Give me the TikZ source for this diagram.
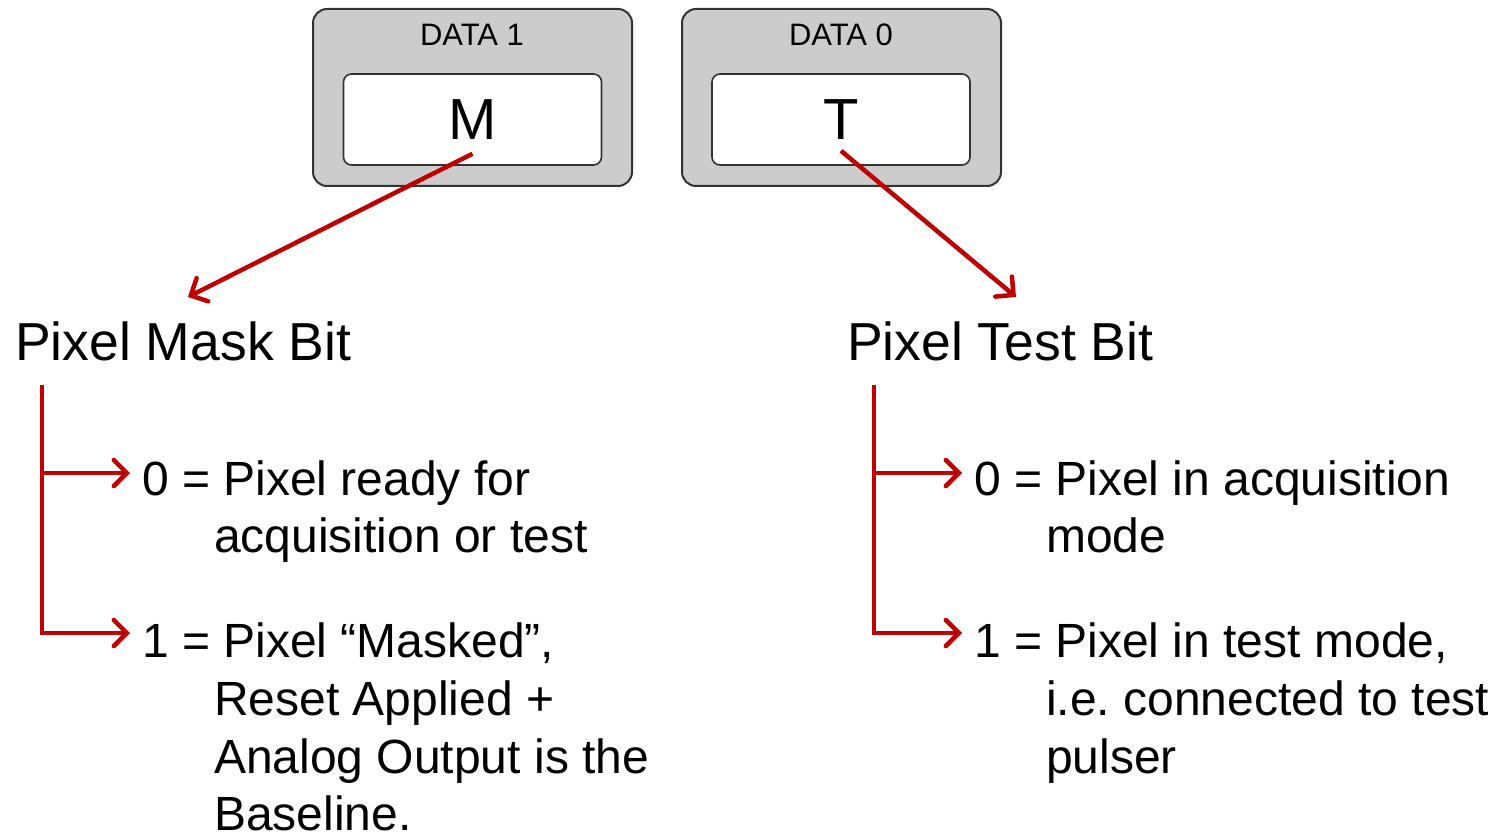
\documentclass[tikz,border=0pt]{standalone}
\usepackage{fontspec}
\setmainfont{Liberation Sans}
\usetikzlibrary{positioning,arrows.meta}

\definecolor{bitred}{RGB}{192,0,0}
\definecolor{regfill}{RGB}{204,204,204}
\definecolor{regline}{RGB}{51,51,51}

\tikzset{
  reg/.style={draw=regline, fill=regfill, line width=2pt, rounded corners=14pt,
    minimum width=319pt, minimum height=177pt, inner sep=0pt},
  field/.style={draw=regline, fill=white, line width=1.6pt, rounded corners=8pt,
    minimum width=258pt, minimum height=91pt, inner sep=0pt,
    font=\fontsize{58}{58}\selectfont},
  regname/.style={inner sep=0pt, font=\fontsize{31}{31}\selectfont},
  heading/.style={anchor=base west, inner sep=0pt, font=\fontsize{53.5}{53.5}\selectfont},
  item/.style={anchor=base west, inner sep=0pt, font=\fontsize{48}{57.5}\selectfont},
  bitline/.style={draw=bitred, line width=4.5pt},
  bitarrow/.style={bitline, -{Straight Barb[length=13pt,width=26pt,line cap=round]}},
}

\begin{document}
\begin{tikzpicture}[x=1pt,y=-1pt]
\useasboundingbox (0,0) rectangle (1499,834);

% the two data registers
\node[reg] (reg1) at (472.5,97.5) {};
\node[reg] (reg0) at (841.5,97.5) {};
\node[regname] (name1) at (472,35) {DATA 1};
\node[regname] (name0) at (841,35) {DATA 0};
\node[field] (mbit) at (472.5,119.5) {M};
\node[field] (tbit) at (841,119.5) {T};

% headings
\node[heading] (mask) at (15,360) {Pixel Mask Bit};
\node[heading] (test) at (847,360) {Pixel Test Bit};

\coordinate (maskin) at (188,297);
\coordinate (testin) at (1016,297);
\draw[bitarrow] ([yshift=12pt]mbit.south) -- (maskin);
\draw[bitarrow] ([yshift=15pt]tbit.south) -- (testin);

% mask bit values
\node[item] (m0) at (142,495) {0 = Pixel ready for};
\node[item] (m0b) at (214,552) {acquisition or test};
\node[item] (m1) at (142,657) {1 = Pixel “Masked”,};
\node[item] (m1b) at (214,715) {Reset Applied +};
\node[item] (m1c) at (214,773) {Analog Output is the};
\node[item] (m1d) at (214,830) {Baseline.};

% test bit values
\node[item] (t0) at (974,495) {0 = Pixel in acquisition};
\node[item] (t0b) at (1046,552) {mode};
\node[item] (t1) at (974,657) {1 = Pixel in test mode,};
\node[item] (t1b) at (1046,715) {i.e.\ connected to test};
\node[item] (t1c) at (1046,773) {pulser};

% brackets
\coordinate (maskbr) at (42,385);
\coordinate (testbr) at (874,385);
\draw[bitarrow] (maskbr) |- ([shift={(-12pt,22pt)}]m0.base west);
\draw[bitarrow] (maskbr) |- ([shift={(-12pt,24pt)}]m1.base west);
\draw[bitarrow] (testbr) |- ([shift={(-12pt,22pt)}]t0.base west);
\draw[bitarrow] (testbr) |- ([shift={(-12pt,24pt)}]t1.base west);
\end{tikzpicture}
\end{document}
